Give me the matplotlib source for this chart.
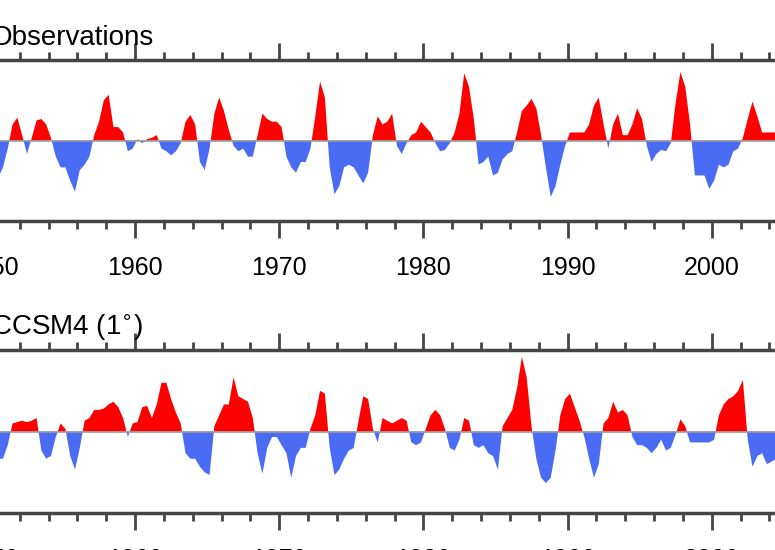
import numpy as np
import matplotlib
matplotlib.use("Agg")
import matplotlib.pyplot as plt
from matplotlib.ticker import MultipleLocator

plt.rcParams['font.family'] = ['Liberation Sans', 'DejaVu Sans']

# Nino3.4 SST anomalies, three values per year (Jan-Apr, May-Aug, Sep-Dec)
first_year = 1950
obs_anom = [
    -1.5, -1.4, -1.0,   -0.3, 0.6, 0.85,   0.2, -0.5, 0.1,   0.75, 0.8, 0.6,   0.1, -0.6, -1.0,
    -1.0, -1.5, -1.9,   -1.1, -0.9, -0.6,  0.2, 0.7, 1.5,    1.7, 0.5, 0.5,    0.3, -0.4, -0.3,
    0.05, -0.1, 0.05,   0.1, 0.2, -0.3,    -0.4, -0.55, -0.4, -0.1, 0.7, 0.95, 0.6, -0.8, -1.1,
    -0.3, 1.0, 1.6,     1.1, 0.4, -0.2,    -0.4, -0.3, -0.6, -0.6, 0.2, 1.0,   0.8, 0.7, 0.7,
    0.5, -0.6, -1.0,    -1.2, -0.8, -0.8,  -0.3, 0.9, 2.2,   1.6, -1.0, -2.0,  -1.7, -1.0, -0.9,
    -1.0, -1.3, -1.6,   -1.2, 0.2, 0.9,    0.6, 0.7, 1.0,    -0.2, -0.5, -0.1, 0.2, 0.3, 0.7,
    0.5, 0.3, -0.1,     -0.4, -0.35, -0.1, 0.3, 1.0, 2.5,    2.0, 0.8, -0.9,   -0.8, -0.6, -1.3,
    -1.2, -0.7, -0.5,   -0.4, 0.3, 1.1,    1.3, 1.55, 1.2,   0.2, -1.0, -2.1,  -1.7, -0.9, -0.2,
    0.3, 0.3, 0.3,      0.3, 0.6, 1.3,     1.6, 0.6, -0.3,   0.6, 1.0, 0.2,    0.2, 0.6, 1.2,
    0.8, -0.2, -0.8,    -0.5, -0.35, -0.4, -0.1, 1.4, 2.55,  2.0, 0.6, -1.3,   -1.3, -1.3, -1.8,
    -1.5, -0.9, -1.0,   -0.9, -0.4, -0.3,  0.1, 0.8, 1.45,   0.9, 0.3, 0.3,    0.3, 0.3, 0.3,
]
ccsm_anom = [
    -1.0, -1.0, -1.0,   -0.5, 0.3, 0.35,   0.4, 0.35, 0.4,   0.5, -0.7, -1.0,  -0.9, -0.2, 0.3,
    0.1, -0.9, -1.4,    -0.6, 0.4, 0.5,    0.8, 0.8, 0.85,   1.0, 1.1, 0.9,    0.5, -0.2, 0.3,
    0.35, 0.9, 0.95,    0.5, 1.0, 1.8,     1.8, 1.2, 0.7,    0.3, -0.8, -1.0,  -1.0, -1.3, -1.5,
    -1.6, 0.2, 0.6,     1.0, 1.0, 2.0,     1.3, 1.2, 1.1,    0.5, -0.8, -1.55, -0.6, -0.2, -0.2,
    -0.5, -0.8, -1.7,   -0.9, -0.6, -0.6,  0.1, 0.6, 1.5,    1.4, -0.6, -1.6,  -1.4, -1.0, -0.7,
    -0.6, 0.4, 1.3,     1.2, 0.1, -0.4,    0.5, 0.4, 0.3,    0.4, 0.5, 0.4,    -0.4, -0.5, -0.4,
    0.1, 0.6, 0.8,      0.6, 0.1, -0.6,    -0.7, -0.3, 0.5,  0.4, -0.5, -0.6,  -0.5, -0.8, -0.9,
    -1.4, 0.2, 0.5,     0.8, 1.6, 2.75,    2.0, 0.2, -1.0,   -1.7, -1.9, -1.7, -0.7, 0.6, 1.2,
    1.4, 0.9, 0.4,      -0.2, -1.0, -1.7,  -1.2, 0.3, 0.5,   1.1, 0.7, 0.8,    0.6, -0.2, -0.5,
    -0.5, -0.6, -0.8,   -0.6, -0.3, -0.7,  -0.6, -0.1, 0.45, 0.2, -0.4, -0.4,  -0.4, -0.4, -0.4,
    -0.3, 0.6, 1.0,     1.2, 1.3, 1.5,     1.9, -0.3, -1.3,  -0.9, -0.8, -1.2, -1.1, -1.0, -1.0,
]
panel_titles = ['Observations', 'CCSM4 (1$^{\\circ}$)']
year_ticks = [1950, 1960, 1970, 1980, 1990, 2000, 2010]

red = '#ff0000'
blue = '#4a6cf5'

fig = plt.figure(figsize=(7.75, 5.5), dpi=100)
# the axes run past the edges of the canvas, as in the cropped original
ax_top = fig.add_axes([-0.0117, 0.598, 1.116, 0.293])
ax_bot = fig.add_axes([-0.0117, 0.0673, 1.116, 0.296])

for ax, values, title in zip([ax_top, ax_bot], [obs_anom, ccsm_anom], panel_titles):
    v = np.array(values)
    t = first_year + (np.arange(len(v)) + 0.5) / 3.0
    ax.fill_between(t, v, 0, where=v >= 0, interpolate=True, color=red, lw=0)
    ax.fill_between(t, v, 0, where=v < 0, interpolate=True, color=blue, lw=0)
    ax.axhline(0, color='#9a9a9a', lw=1.2)
    ax.set_xlim(1950, 2010)
    ax.set_ylim(-3, 3)
    ax.set_yticks([])
    ax.set_xticks(year_ticks)
    ax.set_xticklabels([str(y) for y in year_ticks])
    ax.xaxis.set_minor_locator(MultipleLocator(2))
    ax.tick_params(axis='x', which='both', direction='out', top=True, bottom=True,
                   color='#444444', labelsize=18, pad=13)
    ax.tick_params(axis='x', which='major', length=12, width=2)
    ax.tick_params(axis='x', which='minor', length=6, width=2)
    for side in ['top', 'bottom', 'left', 'right']:
        ax.spines[side].set_linewidth(2.5)
        ax.spines[side].set_color('#444444')
    ax.set_title(title, loc='left', fontsize=20, pad=11)

fig.savefig('out.png', dpi=100)
